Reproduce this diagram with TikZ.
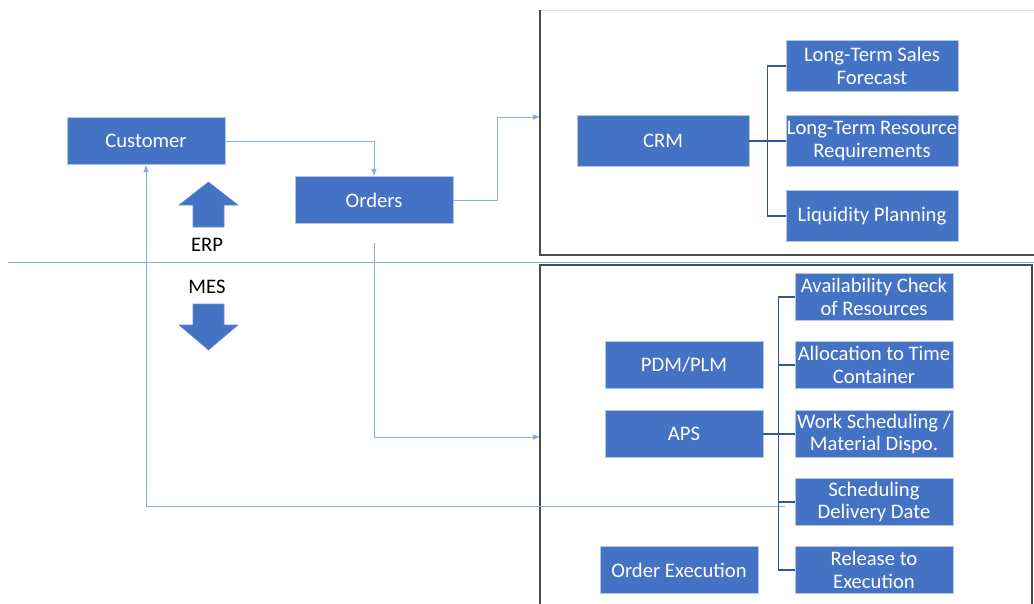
\documentclass[tikz,border=0pt]{standalone}
\usepackage{fontspec}
\setmainfont{Carlito}
\usetikzlibrary{arrows.meta}

\definecolor{boxblue}{RGB}{68,114,196}
\definecolor{boxedge}{RGB}{180,199,231}
\definecolor{linkblue}{RGB}{143,170,220}
\definecolor{treeblue}{RGB}{47,85,151}

\begin{document}
\begin{tikzpicture}[x=0.025cm, y=-0.025cm]

% =========================
% Styles
% =========================
\tikzstyle{block} = [
    rectangle, draw=boxedge,
    fill=boxblue,
    text=white,
    align=center,
    font=\fontsize{14.7}{16.3}\selectfont,
    minimum width=3.95cm,
    minimum height=1.175cm,
    inner sep=0pt
]

\tikzstyle{wide} = [block, minimum width=4.3cm, minimum height=1.275cm]

\tikzstyle{line} = [draw=linkblue, line width=0.7pt, -{Latex[length=5pt,width=4pt]}]
\tikzstyle{tree} = [draw=treeblue, line width=0.8pt]
\tikzstyle{frame} = [draw=black!70, line width=0.9pt]
\tikzstyle{bigarrow} = [draw=boxblue!80, fill=boxblue, line width=0.4pt]

\useasboundingbox (0,0) rectangle (1034,604);

% =========================
% Frames ERP / MES
% =========================
\draw[draw=black!12, line width=0.6pt] (540,10) -- (1034,10);
\draw[frame] (540,10) -- (540,255) -- (1034,255);
\draw[frame] (540,604) -- (540,265) -- (1032,265) -- (1032,604);
\draw[draw=linkblue, line width=0.7pt] (8,262) -- (1034,262);

\coordinate (erpin) at (540,117);
\coordinate (mesin) at (540,437);

% =========================
% Nodes (FIXED POSITIONS)
% =========================
\node[block] (customer) at (146,141) {Customer};
\node[block] (orders) at (374,200) {Orders};

\node[wide] (crm) at (663,141) {CRM};
\node[wide] (sales) at (872,66) {Long-Term Sales\\Forecast};
\node[wide] (resource) at (872,141) {Long-Term Resource\\Requirements};
\node[wide] (liquidity) at (872,216) {Liquidity Planning};

\node[block] (pdm) at (684,365) {PDM/PLM};
\node[block] (aps) at (684,434) {APS};
\node[block] (execution) at (679,570) {Order Execution};

\node[block] (avail) at (874,297) {Availability Check\\of Resources};
\node[block] (alloc) at (874,365) {Allocation to Time\\Container};
\node[block] (work) at (874,434) {Work Scheduling /\\Material Dispo.};
\node[block] (delivery) at (874,502) {Scheduling\\Delivery Date};
\node[block] (release) at (874,570) {Release to\\Execution};

\node[font=\fontsize{14.7}{16.3}\selectfont] (erp) at (207,245) {ERP};
\node[font=\fontsize{14.7}{16.3}\selectfont] (mes) at (207,287) {MES};

% block arrows ERP up / MES down
\draw[bigarrow] (193,227) -- (193,205) -- (179,205) -- (208.5,182)
    -- (238,205) -- (224,205) -- (224,227) -- cycle;
\draw[bigarrow] (193,304) -- (193,325) -- (179,325) -- (208.5,350)
    -- (238,325) -- (224,325) -- (224,304) -- cycle;

% =========================
% Connections
% =========================
\path[line] (customer.east) -| (orders.north);
\path[line] (orders.east) -- ++(44,0) |- (erpin);
\path[line, shorten <=14pt] (orders.south) |- (mesin);
\path[line] (delivery.west) ++(-10,4) -| (customer.south);

% CRM tree
\path[tree] (crm.east) -- ++(19,0);
\path[tree] (sales.west) -- ++(-18,0) |- (liquidity.west);
\path[tree] (resource.west) -- ++(-18,0);

% APS tree
\path[tree] (aps.east) -- ++(17,0);
\path[tree] (avail.west) -- ++(-16,0) |- (release.west);
\foreach \n in {alloc,work,delivery}
    \path[tree] (\n.west) -- ++(-16,0);

\end{tikzpicture}
\end{document}
